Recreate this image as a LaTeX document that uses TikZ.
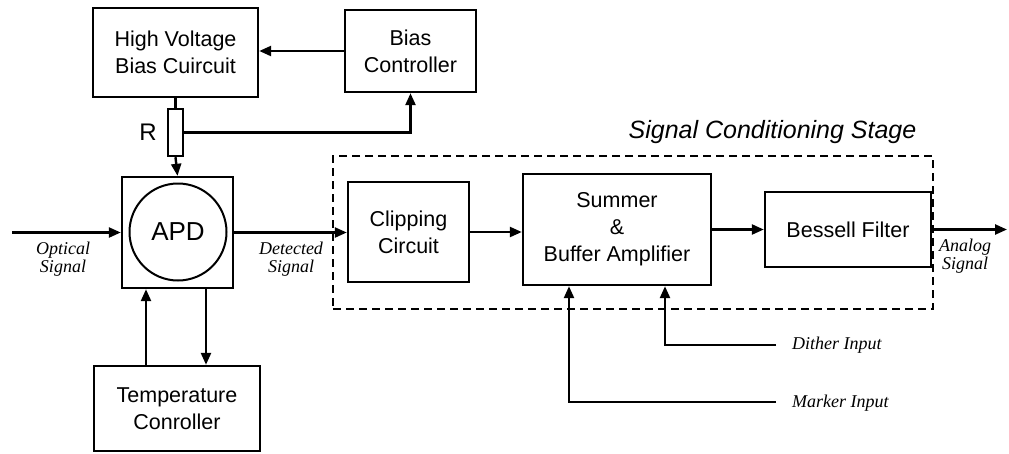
\documentclass[tikz,border=0pt]{standalone}
\usepackage{fontspec}
\setmainfont{Liberation Sans}
\newfontfamily\lblfont{Liberation Serif}
\usetikzlibrary{arrows.meta}
\tikzset{
  blk/.style={draw, line width=2.4pt, inner sep=0pt, align=center,
    font=\fontsize{21.5}{27}\selectfont},
  arr/.style={line width=2.4pt, -{Triangle[length=12pt,width=10pt]}},
  wire/.style={line width=2.4pt},
  lbl/.style={inner sep=0pt, align=center, font=\lblfont\itshape\fontsize{18}{18}\selectfont},
  inlbl/.style={inner sep=0pt, anchor=west, font=\lblfont\itshape\fontsize{18}{18}\selectfont},
}
\begin{document}
\begin{tikzpicture}[x=1pt,y=-1pt]
\useasboundingbox (0,0) rectangle (1009,453);
% blocks
\node[blk, minimum width=165pt, minimum height=89pt] (hv) at (175.5,52.5) {High Voltage\\Bias Cuircuit};
\node[blk, minimum width=131pt, minimum height=82pt] (bias) at (410.5,51) {Bias\\Controller};
\node[draw, line width=2.4pt, minimum width=15pt, minimum height=47pt, inner sep=0pt] (res) at (175.5,132.5) {};
\node[inner sep=0pt, font=\fontsize{24}{24}\selectfont] (rlab) at (148,132) {R};
\node[draw, line width=2.4pt, minimum width=111pt, minimum height=111pt, inner sep=0pt] (apd) at (177.5,232.5) {};
\node[draw, circle, line width=2pt, minimum size=97pt, inner sep=0pt, font=\fontsize{26}{26}\selectfont] (apdc) at (178,232) {APD};
\node[blk, minimum width=166pt, minimum height=85pt] (temp) at (177,408.5) {Temperature\\Conroller};
\node[blk, minimum width=121pt, minimum height=100pt] (clip) at (408.5,232) {Clipping\\Circuit};
\node[blk, minimum width=188pt, minimum height=111pt] (sum) at (617,229.5) {Summer\\\&\\Buffer Amplifier};
\node[blk, minimum width=166pt, minimum height=75pt] (bes) at (848,229.5) {Bessell Filter};
% dashed stage
\node[draw, dash pattern=on 8pt off 5pt, line width=2pt, minimum width=600pt, minimum height=153pt, inner sep=0pt] (stage) at (633,232.5) {};
\node[inner sep=0pt, font=\itshape\fontsize{25}{25}\selectfont] (title) at (772.5,132) {Signal Conditioning Stage};
% free ends
\coordinate (optin) at (12,232.5);
\coordinate (aout) at (1007,229.5);
\coordinate (dith) at (776,345);
\coordinate (mark) at (776,402);
% connectors
\draw[arr] (bias.west) -- (bias.west -| hv.east);
\draw[wire] (hv.south) -- (res.north);
\draw[arr] (res.south) -- (apd.north);
\draw[arr] (res.east) -| (bias.south);
\draw[arr] (optin) -- (apd.west);
\draw[arr] (apd.east) -- (apd.east -| clip.west);
\draw[arr] (clip.east) -- (clip.east -| sum.west);
\draw[arr] (sum.east) -- (bes.west);
\draw[arr] (bes.east) -- (aout);
\draw[arr] ([xshift=-31pt]temp.north) -- ([xshift=-31pt]temp.north |- apd.south);
\draw[arr] ([xshift=28.5pt]apd.south) -- ([xshift=28.5pt]apd.south |- temp.north);
\draw[arr] (dith) -| ([xshift=48pt]sum.south);
\draw[arr] (mark) -| ([xshift=-48pt]sum.south);
% labels
\node[lbl] (optl) at (63,259) {Optical\\Signal};
\node[lbl] (detl) at (291,259) {Detected\\Signal};
\node[lbl] (anl) at (965,256) {Analog\\Signal};
\node[inlbl] (dithl) at (792,345) {Dither Input};
\node[inlbl] (markl) at (792,403) {Marker Input};
\end{tikzpicture}
\end{document}
